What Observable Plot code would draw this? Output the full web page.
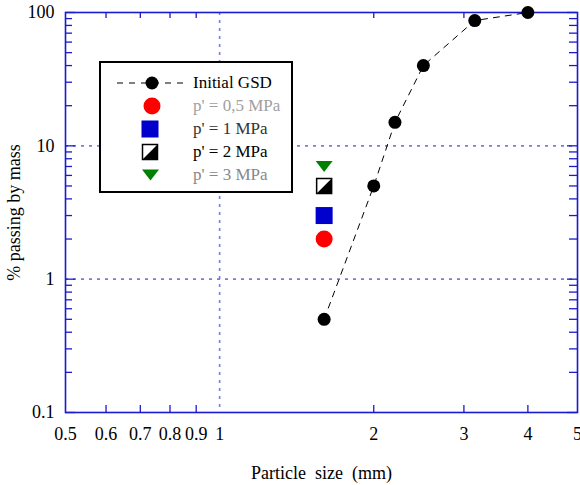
<!DOCTYPE html>
<html>
<head>
<meta charset="utf-8">
<script src="https://cdn.jsdelivr.net/npm/d3@7"></script>
<script src="https://cdn.jsdelivr.net/npm/@observablehq/plot@0.6"></script>
<style>
  body { margin: 0; background: white; }
  #wrap { position: relative; width: 580px; height: 485px; font-family: "Liberation Serif", "Times New Roman", serif; }
  #wrap svg text { font-family: "Liberation Serif", "Times New Roman", serif; }
  #legend { position: absolute; left: 99px; top: 61px; width: 190px; height: 128px; border: 2.5px solid black; background: white; box-sizing: content-box; }
  .row { position: absolute; left: 0; height: 22px; display: flex; align-items: center; }
  .row svg { width: 92px; height: 22px; display: block; }
  .row span { font-size: 17px; white-space: nowrap; font-family: "Liberation Serif", "Times New Roman", serif; }
</style>
</head>
<body>
<div id="wrap"></div>
<script>
// ---- data ----
const gsdSize = [1.6, 2, 2.2, 2.5, 3.15, 4];
const gsdPass = [0.5, 5, 15, 40, 87, 100];
const p05Size = [1.6], p05Pass = [2];
const p1Size = [1.6], p1Pass = [3];
const p2Size = [1.6], p2Pass = [5];
const p3Size = [1.6], p3Pass = [7];
const xTickVals = [0.5, 0.6, 0.7, 0.8, 0.9, 1, 2, 3, 4, 5];
const xMinorTicks = [0.6, 0.7, 0.8, 0.9, 2, 3, 4];
const yTickVals = [0.1, 1, 10, 100];
const yMinorTicks = [0.2,0.3,0.4,0.5,0.6,0.7,0.8,0.9,2,3,4,5,6,7,8,9,20,30,40,50,60,70,80,90];
const legendLabels = ["Initial GSD", "p' = 0,5 MPa", "p' = 1 MPa", "p' = 2 MPa", "p' = 3 MPa"];
const legendColors = ["#000000", "#a0a0a0", "#333333", "#000000", "#888888"];

const zip = (xs, ys) => xs.map((x, i) => ({x, y: ys[i]}));

const W = 580, H = 485, mL = 65, mR = 3, mT = 12, mB = 73;
const plotH = H - mT - mB, plotW = W - mL - mR;
const frameColor = "#1a1ad0";
const gridColor = "#7a7ae6";

const sq = {draw(c, size) { const r = Math.sqrt(size / Math.PI); c.rect(-r, -r, 2 * r, 2 * r); }};
const halfTri = {draw(c, size) { const r = Math.sqrt(size / Math.PI); c.moveTo(r, -r); c.lineTo(r, r); c.lineTo(-r, r); c.closePath(); }};
const downTri = {draw(c, size) { const r = Math.sqrt(size / Math.PI); c.moveTo(-r, -0.65 * r); c.lineTo(r, -0.65 * r); c.lineTo(0, 0.65 * r); c.closePath(); }};

const chart = Plot.plot({
  width: W, height: H,
  marginLeft: mL, marginRight: mR, marginTop: mT, marginBottom: mB,
  style: {fontFamily: "'Liberation Serif', 'Times New Roman', serif", fontSize: "18px", background: "white", color: "black"},
  x: {type: "log", domain: [0.5, 5]},
  y: {type: "log", domain: [0.1, 100]},
  marks: [
    // grid
    Plot.ruleX([1], {stroke: gridColor, strokeWidth: 1.6, strokeDasharray: "3,5"}),
    Plot.ruleY([1, 10], {stroke: gridColor, strokeWidth: 1.6, strokeDasharray: "3,5"}),
    // inner ticks
    Plot.tickX(xMinorTicks, {x: d => d, insetTop: plotH - 7, stroke: frameColor, strokeWidth: 1.3}),
    Plot.tickX(xMinorTicks, {x: d => d, insetBottom: plotH - 6, stroke: frameColor, strokeWidth: 1.3}),
    Plot.tickY(yMinorTicks, {y: d => d, insetRight: plotW - 7, stroke: frameColor, strokeWidth: 1.3}),
    Plot.tickY(yTickVals, {y: d => d, insetRight: plotW - 10, stroke: frameColor, strokeWidth: 1.3}),
    Plot.tickY(yMinorTicks, {y: d => d, insetLeft: plotW - 8, stroke: frameColor, strokeWidth: 1.3}),
    Plot.tickY(yTickVals, {y: d => d, insetLeft: plotW - 10, stroke: frameColor, strokeWidth: 1.3}),
    Plot.frame({stroke: frameColor, strokeWidth: 1.6}),
    // axes
    Plot.axisX({ticks: xTickVals, tickSize: 0, tickPadding: 15, tickFormat: d => String(d), fontSize: 18,
      label: "Particle  size  (mm)", labelAnchor: "center", labelArrow: "none", labelOffset: 66}),
    Plot.axisY({ticks: yTickVals, tickSize: 0, tickPadding: 11, tickFormat: d => String(d), fontSize: 18,
      label: "% passing by mass", labelAnchor: "center", labelArrow: "none", labelOffset: 58}),
    // data
    Plot.line(zip(gsdSize, gsdPass), {x: "x", y: "y", stroke: "black", strokeWidth: 1, strokeDasharray: "6,6"}),
    Plot.dot(zip(gsdSize, gsdPass), {x: "x", y: "y", r: 6.5, fill: "black"}),
    Plot.dot(zip(p05Size, p05Pass), {x: "x", y: "y", r: 8.5, fill: "#ff0000"}),
    Plot.dot(zip(p1Size, p1Pass), {x: "x", y: "y", r: 8.5, symbol: sq, fill: "#0000cc"}),
    Plot.dot(zip(p2Size, p2Pass), {x: "x", y: "y", r: 7.5, symbol: sq, fill: "white", stroke: "black", strokeWidth: 1.5}),
    Plot.dot(zip(p2Size, p2Pass), {x: "x", y: "y", r: 7.5, symbol: halfTri, fill: "black"}),
    Plot.dot(zip(p3Size, p3Pass), {x: "x", y: "y", r: 8.5, symbol: downTri, fill: "#008000"})
  ]
});

const wrap = document.getElementById("wrap");
wrap.appendChild(chart);

// legend
const legend = document.createElement("div");
legend.id = "legend";
const symbolSvgs = [
  `<line x1="16" x2="86" y1="11" y2="11" stroke="black" stroke-dasharray="6,6"/><circle cx="51" cy="11" r="6.5" fill="black"/>`,
  `<circle cx="51" cy="11" r="8.5" fill="#ff0000"/>`,
  `<rect x="40.5" y="2.5" width="17" height="17" fill="#0000cc"/>`,
  `<rect x="41.5" y="3.5" width="15" height="15" fill="white" stroke="black" stroke-width="1.5"/><path d="M56.5,3.5L56.5,18.5L41.5,18.5Z" fill="black"/>`,
  `<path d="M41,5.5L58,5.5L49.5,16.5Z" fill="#008000"/>`
];
legendLabels.forEach((lab, i) => {
  const row = document.createElement("div");
  row.className = "row";
  row.style.top = (9 + i * 23) + "px";
  row.innerHTML = `<svg viewBox="0 0 92 22">${symbolSvgs[i]}</svg><span style="color:${legendColors[i]}">${lab}</span>`;
  legend.appendChild(row);
});
wrap.appendChild(legend);
</script>
</body>
</html>
